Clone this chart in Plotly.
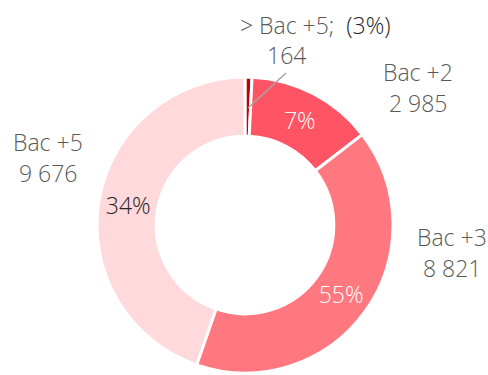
import plotly.graph_objects as go

# Effectifs par niveau de diplôme
categories = ["> Bac +5", "Bac +2", "Bac +3", "Bac +5"]
effectifs = [164, 2985, 8821, 9676]
parts_txt = ["", "7%", "55%", "34%"]
couleurs = ["#C00000", "#FF5464", "#FF7880", "#FFD9DC"]
txt_couleurs = ["#FFFFFF", "#FFFFFF", "#FFFFFF", "#262626"]

W, H = 488, 375
FONT = "Open Sans, DejaVu Sans, sans-serif"
GRIS = "#595959"
TAILLE = 23


def fmt(n):
    return f"{n:,}".replace(",", " ")


fig = go.Figure(
    go.Pie(
        labels=categories,
        values=effectifs,
        text=parts_txt,
        textinfo="text",
        textposition="inside",
        insidetextorientation="horizontal",
        textfont=dict(family=FONT, size=TAILLE, color=txt_couleurs, weight=300),
        hole=0.6,
        sort=False,
        direction="clockwise",
        rotation=0,
        marker=dict(colors=couleurs, line=dict(color="#FFFFFF", width=3)),
        domain=dict(x=[97 / W, 393 / W], y=[2 / H, 298 / H]),
        showlegend=False,
        hoverinfo="label+value",
    )
)


def px(x):
    return x / W


def py(y):
    return 1 - y / H


def police(c=GRIS):
    return dict(family=FONT, size=TAILLE, color=c, weight=300)


# Étiquettes extérieures : libellé puis effectif
etiquettes = [
    (categories[1], effectifs[1], 418, 72),
    (categories[2], effectifs[2], 452, 237),
    (categories[3], effectifs[3], 48, 142),
]
annots = []
for lab, val, x, y in etiquettes:
    annots.append(dict(x=px(x), y=py(y), text=lab, showarrow=False,
                       xref="paper", yref="paper", xanchor="center", yanchor="middle",
                       font=police()))
    annots.append(dict(x=px(x), y=py(y + 31), text=fmt(val), showarrow=False,
                       xref="paper", yref="paper", xanchor="center", yanchor="middle",
                       font=police()))

# Petite part en haut, avec ligne de rappel
annots.append(dict(x=px(315), y=py(25),
                   text=categories[0] + ";  <span style='color:#262626'>(3%)</span>",
                   showarrow=False, xref="paper", yref="paper",
                   xanchor="center", yanchor="middle", font=police()))
annots.append(dict(x=px(286), y=py(55), text=fmt(effectifs[0]), showarrow=False,
                   xref="paper", yref="paper", xanchor="center", yanchor="middle",
                   font=police()))

fig.update_layout(
    width=W,
    height=H,
    margin=dict(l=0, r=0, t=0, b=0),
    paper_bgcolor="#FFFFFF",
    plot_bgcolor="#FFFFFF",
    annotations=annots,
    uniformtext=dict(minsize=TAILLE, mode="show"),
    shapes=[dict(type="line", xref="paper", yref="paper",
                 x0=px(286), y0=py(73), x1=px(248), y1=py(108),
                 line=dict(color="#A6A6A6", width=1.5))],
)

fig.write_html("out.html")
